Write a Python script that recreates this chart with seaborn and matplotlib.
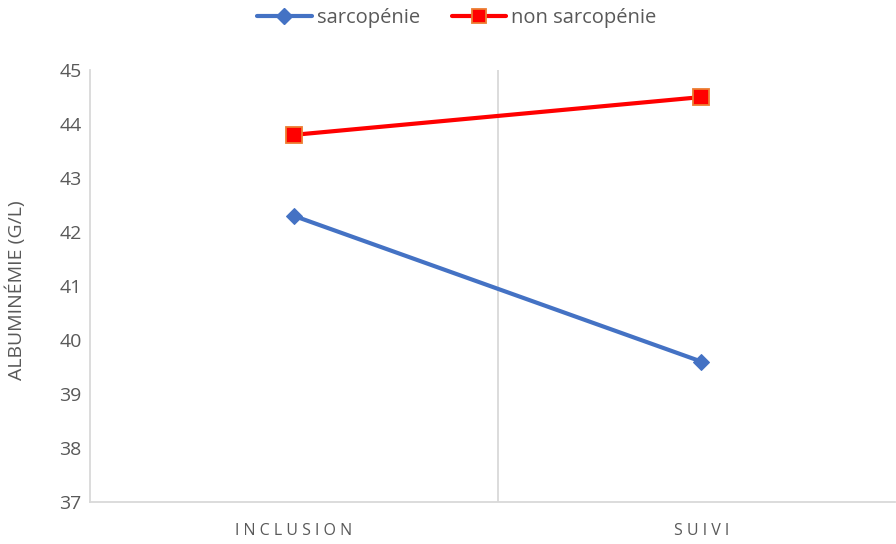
import matplotlib.pyplot as plt
import seaborn as sns
import pandas as pd

temps = ['INCLUSION', 'SUIVI']
sarcopenie = [42.3, 39.6]
non_sarcopenie = [43.8, 44.5]
series = ['sarcopénie', 'non sarcopénie']


def spaced(s):
    return ' '.join(s)


def main():
    df = pd.DataFrame({
        'temps': temps * 2,
        'albumine': sarcopenie + non_sarcopenie,
        'groupe': [series[0]] * 2 + [series[1]] * 2,
    })

    sns.set_style('white')
    plt.rcParams['font.family'] = ['Open Sans', 'DejaVu Sans']
    grey = '#595959'

    fig = plt.figure(figsize=(8.96, 5.44), dpi=100)
    ax = fig.add_axes([0.1004, 0.0772, 0.8986, 0.7940])

    sns.lineplot(data=df, x='temps', y='albumine', hue='groupe', style='groupe',
                 palette={series[0]: '#4472C4', series[1]: '#FF0000'},
                 markers={series[0]: 'D', series[1]: 's'}, dashes=False,
                 linewidth=3, ax=ax, legend=False, sort=False)

    # marker styling
    lines = ax.get_lines()
    lines[0].set_markersize(8.5)
    lines[0].set_markeredgecolor('#4472C4')
    lines[1].set_markersize(11)
    lines[1].set_markerfacecolor('#FF0000')
    lines[1].set_markeredgecolor('#ED7D31')
    lines[1].set_markeredgewidth(1.3)

    ax.set_xlim(-0.5, 1.475)
    ax.set_ylim(37, 45)
    ax.set_yticks(range(37, 46))
    ax.axvline(0.5, color='#D9D9D9', linewidth=1.3, zorder=0)

    ax.set_xticks([0, 1])
    ax.set_xticklabels([spaced(t) for t in temps], fontsize=11.5, color=grey)
    ax.tick_params(axis='y', labelsize=14, colors=grey, length=0, pad=6)
    ax.tick_params(axis='x', length=0, pad=15)

    ax.set_xlabel('')
    ax.set_ylabel('ALBUMINÉMIE (G/L)', fontsize=14, color=grey)
    ax.yaxis.set_label_coords(-0.08, 0.49)

    for side in ['top', 'right']:
        ax.spines[side].set_visible(False)
    ax.spines['left'].set_color('#D9D9D9')
    ax.spines['bottom'].set_color('#D9D9D9')
    ax.spines['left'].set_linewidth(1.3)
    ax.spines['bottom'].set_linewidth(1.3)

    handles = [
        plt.Line2D([], [], color='#4472C4', linewidth=3, marker='D', markersize=8.5),
        plt.Line2D([], [], color='#FF0000', linewidth=3, marker='s', markersize=10,
                   markeredgecolor='#ED7D31', markeredgewidth=1.3),
    ]
    fig.legend(handles, series, loc='center', bbox_to_anchor=(0.51, 0.966), ncol=2,
               frameon=False, fontsize=14.5, labelcolor=grey, handlelength=2.7,
               handletextpad=0.25, columnspacing=1.6)

    plt.savefig('out.png', dpi=100)


if __name__ == '__main__':
    main()
